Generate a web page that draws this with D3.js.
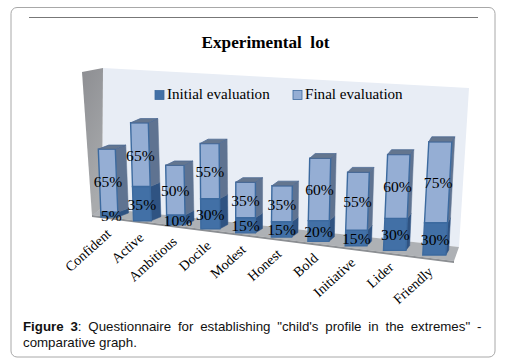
<!DOCTYPE html>
<html lang="en">
<head>
<meta charset="UTF-8">
<title>Experimental lot</title>
<script src="https://d3js.org/d3.v7.min.js"></script>
<style>
    body, html { margin: 0; padding: 0; background: #fff; }
    svg { display: block; }
    .serif { font-family: "Liberation Serif", serif; fill: #000; }
    .caption { font-family: "Liberation Sans", sans-serif; font-size: 13.3px; fill: #111; }
</style>
</head>
<body>
<div id="chart"></div>
<script>
const categories = ["Confident", "Active", "Ambitious", "Docile", "Modest", "Honest", "Bold", "Initiative", "Lider", "Friendly"];
const initialValues = [5, 35, 10, 30, 15, 15, 20, 15, 30, 30];
const finalValues = [65, 65, 50, 55, 35, 35, 60, 55, 60, 75];
const seriesNames = ["Initial evaluation", "Final evaluation"];

const width = 508, height = 361;
const svg = d3.select("#chart").append("svg").attr("width", width).attr("height", height);

// fake perspective: everything is divided by this, bars get bigger to the right
const persp = d3.scaleLinear().domain([0, 9]).range([1, 0.9]);
const xBase = d3.scaleLinear().domain([0, 9]).range([101, 380.5]);
const yBase = d3.scaleLinear().domain([0, 9]).range([217, 229.5]);
const yValue = d3.scaleLinear().domain([0, 100]).range([0, 97]);
const barWidth = d3.scaleLinear().domain([0, 9]).range([17, 23]);
const lean = d3.scaleLinear().domain([1, 9]).range([-0.03, 0.053]);
const depthX = d3.scaleLinear().domain([0, 9]).range([10.5, 3]);
const depthY = d3.scaleLinear().domain([0, 9]).range([4, 5]);

const left = i => xBase(i) / persp(i);
const bottom = i => yBase(i) / persp(i);
const rise = (i, v) => yValue(v) / persp(i);
// screen point on the front face of bar i: f = 0 left, 1 right, v = percent height
function pt(i, f, v) {
    const h = rise(i, v);
    return [left(i) + f * barWidth(i) + lean(i) * h, bottom(i) - h];
}
function back(i, p) { return [p[0] + depthX(i), p[1] - depthY(i)]; }
const poly = pts => pts.map(p => p.map(n => n.toFixed(1)).join(",")).join(" ");

const defs = svg.append("defs");
const wallGrad = defs.append("linearGradient").attr("id", "wallGrad")
    .attr("x1", 0).attr("y1", 0).attr("x2", 0.3).attr("y2", 1);
wallGrad.append("stop").attr("offset", "0%").attr("stop-color", "#8d8e92");
wallGrad.append("stop").attr("offset", "100%").attr("stop-color", "#a9abad");

// page frame and rule
svg.append("rect").attr("x", 11).attr("y", 7.5).attr("width", 484).attr("height", 349.5).attr("rx", 6)
    .attr("fill", "#fff").attr("stroke", "#a8a8a8").attr("stroke-width", 1);
svg.append("line").attr("x1", 29).attr("x2", 478).attr("y1", 17.5).attr("y2", 17.5)
    .attr("stroke", "#777").attr("stroke-width", 1);

svg.append("text").attr("class", "serif").attr("x", 265.5).attr("y", 48)
    .attr("text-anchor", "middle").attr("font-size", 17.2).attr("font-weight", "bold")
    .style("white-space", "pre").text("Experimental  lot");

// walls and floor
svg.append("polygon").attr("points", poly([[103, 68], [469, 88], [459, 247], [102, 208]])).attr("fill", "#e8edf5");
svg.append("polygon").attr("points", poly([[82, 72], [103, 68], [102, 208], [92, 216]])).attr("fill", "url(#wallGrad)");
svg.append("polygon").attr("points", poly([[102, 208], [459, 247], [454, 261], [92, 215]])).attr("fill", "#aeb1b5");
svg.append("polygon").attr("points", poly([[92, 215], [454, 261], [454, 263], [92, 217]])).attr("fill", "#8c8f93");

const stacked = d3.stack().keys([0, 1]).value((d, k) => d[k])(categories.map((c, i) => [initialValues[i], finalValues[i]]));

const seriesStyle = [
    { front: "#4270a6", side: "#2f5382", top: "#2f5382" },
    { front: "#95aed4", side: "#5f7391", top: "#64768f" }
];

const bars = svg.append("g").selectAll("g").data(categories).join("g");
bars.each(function (c, i) {
    const g = d3.select(this);
    stacked.forEach((layer, s) => {
        const [v0, v1] = layer[i];
        const style = seriesStyle[s];
        const bl = pt(i, 0, v0), br = pt(i, 1, v0), tl = pt(i, 0, v1), tr = pt(i, 1, v1);
        g.append("polygon").attr("points", poly([br, back(i, br), back(i, tr), tr]))
            .attr("fill", style.side).attr("stroke", style.side).attr("stroke-width", 0.5);
        g.append("polygon").attr("points", poly([bl, br, tr, tl]))
            .attr("fill", style.front).attr("stroke", "#3c6a9f").attr("stroke-width", 1.4);
        if (s === 1) {
            g.append("polygon").attr("points", poly([tl, tr, back(i, tr), back(i, tl)]))
                .attr("fill", style.top).attr("stroke", "#4d6a94").attr("stroke-width", 0.8);
        }
    });
});

// value labels go on top of all the bars
const labels = svg.append("g").attr("class", "serif").attr("font-size", 15.6).attr("text-anchor", "middle");
stacked.forEach(layer => {
    labels.selectAll(null).data(layer).join("text")
        .attr("x", (d, i) => pt(i, 0.5, (d[0] + d[1]) / 2)[0] + (d[1] - d[0] < 15 ? 2 : 0))
        .attr("y", (d, i) => pt(i, 0.5, (d[0] + d[1]) / 2)[1] + 6)
        .text(d => (d[1] - d[0]) + "%");
});

// category labels
svg.append("g").attr("class", "serif").attr("font-size", 14).selectAll("text").data(categories).join("text")
    .attr("text-anchor", "end")
    .attr("transform", (c, i) => `translate(${left(i) + 11},${bottom(i) + 18}) rotate(-42)`)
    .text(c => c);

// legend
const legendX = [155, 293], legendTextX = [167, 305];
const legend = svg.append("g").selectAll("g").data(seriesNames).join("g");
legend.append("rect").attr("x", (d, i) => legendX[i]).attr("y", 90.5).attr("width", 9).attr("height", 9)
    .attr("fill", (d, i) => seriesStyle[i].front).attr("stroke", "#3c6a9f").attr("stroke-width", 0.8);
legend.append("text").attr("class", "serif").attr("x", (d, i) => legendTextX[i]).attr("y", 99)
    .attr("font-size", 15.1).text(d => d);

// caption, first line is justified in the original
const capFirst = svg.append("text").attr("class", "caption").attr("x", 23).attr("y", 331).attr("word-spacing", 3.1);
capFirst.append("tspan").attr("font-weight", "bold").text("Figure 3");
capFirst.append("tspan").text(": Questionnaire for establishing \"child's profile in the extremes\" -");
svg.append("text").attr("class", "caption").attr("x", 23).attr("y", 347).text("comparative graph.");
</script>
</body>
</html>
